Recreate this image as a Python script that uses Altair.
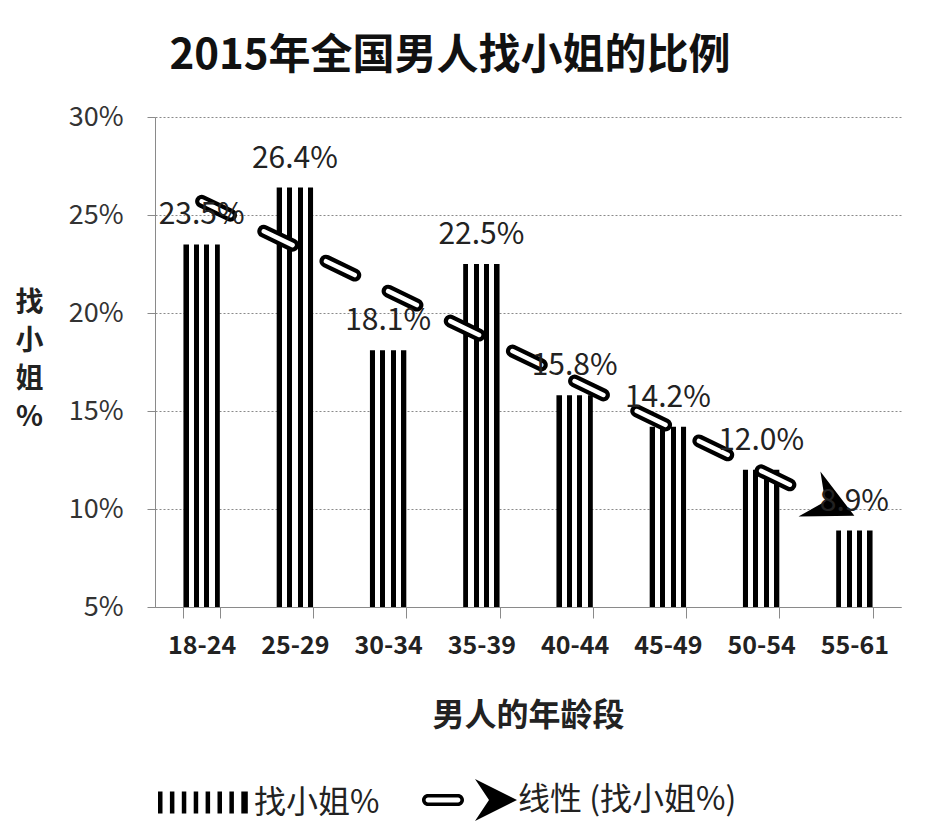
import json
import altair as alt
import pandas as pd

ages = ['18-24', '25-29', '30-34', '35-39', '40-44', '45-49', '50-54', '55-61']
pct = [23.5, 26.4, 18.1, 22.5, 15.8, 14.2, 12.0, 8.9]
y_ticks = [5, 10, 15, 20, 25, 30]
series = ['找小姐%', '线性 (找小姐%)']

FONT = 'Noto Sans CJK SC'
TXT = '#222222'
AXIS_GRAY = '#8a8a8a'

df = pd.DataFrame({'age': ages, 'pct': pct})


def stripe_fill(n, w):
    # vertical black stripes on white, like the Excel pattern fill
    gap = (1 - n * w) / (n - 1)
    stops = []
    for k in range(n):
        a = round(k * (w + gap), 4)
        b = min(round(a + w, 4), 1)
        stops += [alt.GradientStop(offset=a, color='black'),
                  alt.GradientStop(offset=b, color='black')]
        if k < n - 1:
            stops += [alt.GradientStop(offset=b, color='white'),
                      alt.GradientStop(offset=round(b + gap, 4), color='white')]
    return alt.Gradient(gradient='linear', stops=stops, x1=0, x2=1, y1=0, y2=0)


# legend symbols: drawn in px around the symbol centre, then scaled to symbol units
R = 12  # sqrt(symbolSize) / 2


def u(v):
    return f'{v / R:.3f}'


def rect(x0, y0, x1, y1):
    return f'M{u(x0)},{u(y0)}L{u(x1)},{u(y0)}L{u(x1)},{u(y1)}L{u(x0)},{u(y1)}Z'


STRIPE_PATH = ''.join(
    rect(-48 + 11.9 * k, -11, -48 + 11.9 * k + (6.5 if k == 7 else 4.5), 11)
    for k in range(8)
)
TREND_PATH = (
    f'M{u(-42)},{u(-6)} L{u(-12)},{u(-6)} A{u(6)},{u(6)} 0 0 1 {u(-12)},{u(6)} '
    f'L{u(-42)},{u(6)} A{u(6)},{u(6)} 0 0 1 {u(-42)},{u(-6)} Z '
    f'M{u(-42)},{u(-2.4)} A{u(2.4)},{u(2.4)} 0 0 0 {u(-42)},{u(2.4)} L{u(-12)},{u(2.4)} '
    f'A{u(2.4)},{u(2.4)} 0 0 0 {u(-12)},{u(-2.4)} Z '
    f'M{u(47)},0 L{u(5)},{u(-21)} L{u(19)},0 L{u(5)},{u(21)} Z'
)
ARROW_PATH = 'M 0,0 L -2,-1 L -1.3,0 L -2,1 Z'

x_enc = alt.X(
    'age:N', sort=ages,
    scale=alt.Scale(paddingInner=0.61, paddingOuter=0.305),
    axis=alt.Axis(
        title='男人的年龄段', labelAngle=0, tickBand='extent',
        labelFont=FONT, labelFontSize=25, labelFontWeight='bold', labelColor=TXT,
        labelPadding=15, tickSize=11, tickColor=AXIS_GRAY, domainColor=AXIS_GRAY,
        titleFont=FONT, titleFontSize=32, titleFontWeight='bold', titleColor=TXT,
        titleBaseline='top', titleY=93, grid=False,
    ),
)
y_scale = alt.Scale(domain=[5, 30], nice=False, zero=False)
y_axis = alt.Axis(
    title=['找', '小', '姐', '%'], titleAngle=0, titleAlign='center', titleBaseline='top',
    titleX=-126, titleY=172, titleLineHeight=38,
    titleFont=FONT, titleFontSize=28, titleFontWeight='bold', titleColor=TXT,
    values=y_ticks, labelExpr="datum.value + '%'",
    labelFont=FONT, labelFontSize=27, labelColor='#333333', labelPadding=24,
    tickSize=8, tickColor=AXIS_GRAY, domainColor=AXIS_GRAY,
    grid=True, gridColor=AXIS_GRAY, gridDash=[2, 2], gridWidth=1,
)

base = alt.Chart(df)

bars = base.mark_bar(color=stripe_fill(4, 0.14)).encode(
    x=x_enc,
    y=alt.Y('pct:Q', scale=y_scale, axis=y_axis),
    y2=alt.datum(5),
)

labels = base.mark_text(
    dy=-20, baseline='alphabetic', font=FONT, fontSize=30, color=TXT
).encode(
    x=alt.X('age:N', sort=ages),
    y='pct:Q',
    text='lbl:N',
).transform_calculate(lbl="format(datum.pct, '.1f') + '%'")

# linear trendline, computed by vega-lite from the bar values
trend_base = base.transform_window(
    idx='row_number()'
).transform_regression(
    'idx', 'pct', method='linear'
).transform_filter(
    f'datum.idx == 1 || datum.idx == {len(ages)}'
).transform_calculate(
    age=f'{json.dumps(ages)}[datum.idx - 1]'
)

dash = [32, 37] * 9 + [32, 400]
trend_outer = trend_base.mark_line(
    color='black', strokeWidth=13, strokeCap='round', strokeDash=dash
).encode(x=alt.X('age:N', sort=ages), y='pct:Q')
trend_inner = trend_base.mark_line(
    color='white', strokeWidth=4.5, strokeCap='round', strokeDash=dash
).encode(x=alt.X('age:N', sort=ages), y='pct:Q')

arrow = trend_base.transform_filter(
    f'datum.idx == {len(ages)}'
).mark_point(
    shape=ARROW_PATH, size=2500, angle=26, filled=True, color='black', opacity=1, strokeWidth=0
).encode(x=alt.X('age:N', sort=ages), y='pct:Q')

legend_layer = alt.Chart(pd.DataFrame({'series': series})).mark_point(
    filled=True, opacity=0, color='black'
).encode(
    shape=alt.Shape(
        'series:N', sort=series,
        scale=alt.Scale(domain=series, range=[STRIPE_PATH, TREND_PATH]),
        legend=alt.Legend(
            title=None, orient='none', legendX=35, legendY=667, direction='horizontal',
            symbolSize=(2 * R) ** 2, symbolFillColor='black', symbolStrokeWidth=0,
            symbolOpacity=1,
            labelFont=FONT, labelFontSize=32, labelColor=TXT, labelOffset=32,
            labelLimit=400, columnPadding=42, padding=0,
        ),
    )
)

chart = alt.layer(
    bars, trend_outer, trend_inner, arrow, labels, legend_layer
).properties(
    width=746,
    height=490,
    autosize='none',
    padding={'left': 147, 'top': 109, 'right': 26, 'bottom': 218},
    title=alt.TitleParams(
        '2015年全国男人找小姐的比例', font=FONT, fontSize=42, fontWeight='bold',
        color='#111111', anchor='middle', dx=-78, dy=60, offset=52, baseline='alphabetic',
    ),
).configure_view(stroke=None)

chart.save('out.html', embed_options={'renderer': 'svg', 'actions': False})
